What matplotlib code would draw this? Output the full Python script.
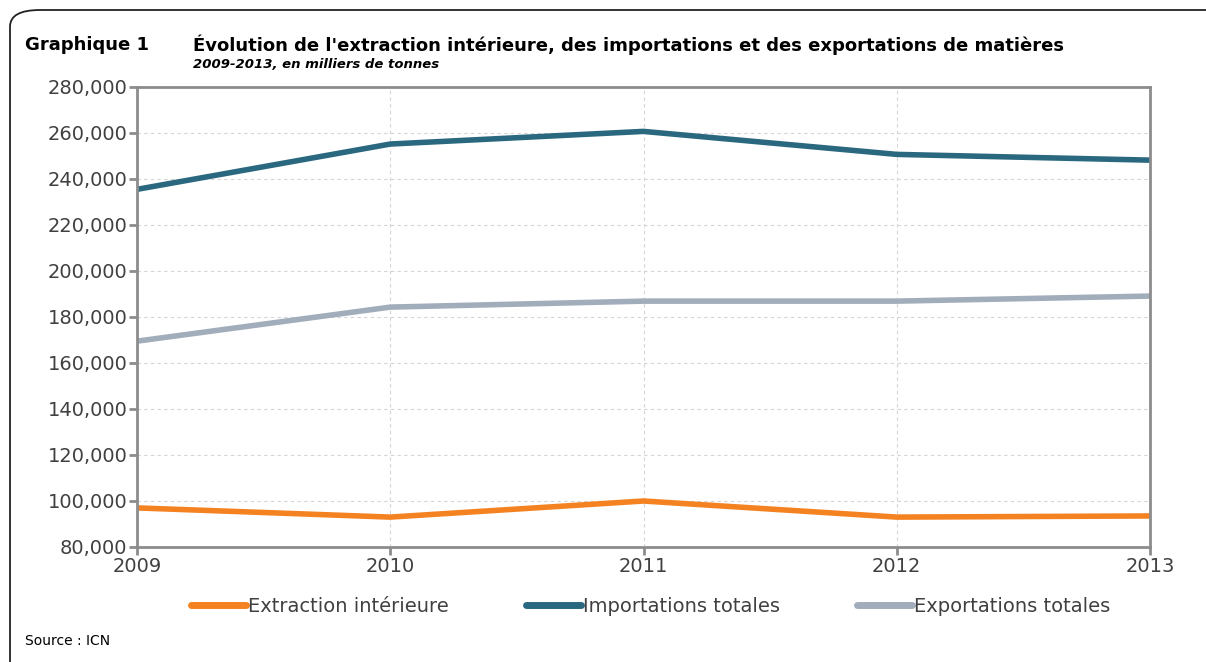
import matplotlib
matplotlib.use("Agg")
import matplotlib.pyplot as plt
from matplotlib.patches import FancyBboxPatch
from matplotlib.ticker import FuncFormatter

# donnees (milliers de tonnes)
annees = [2009, 2010, 2011, 2012, 2013]
extraction = [97000, 93000, 100000, 93000, 93500]
importations = [235500, 255200, 260700, 250700, 248200]
exportations = [169500, 184300, 186900, 186900, 189100]

noms = ['Extraction intérieure', 'Importations totales', 'Exportations totales']
couleurs = ['#F58220', '#2A6880', '#A2ADBB']

plt.rcParams['font.family'] = ['DejaVu Sans Condensed', 'DejaVu Sans']

fig = plt.figure(figsize=(12.06, 6.62), dpi=100)
ax = fig.add_axes([137/1206, 1-547/662, (1150-137)/1206, (547-87)/662])

# cadre arrondi autour du graphique
cadre = FancyBboxPatch((10/1206, -0.05), 1.2, 1-10/662+0.05,
                       boxstyle="round,pad=0,rounding_size=0.025",
                       transform=fig.transFigure, fill=False,
                       edgecolor='#222222', linewidth=1.3, clip_on=False)
fig.patches.append(cadre)

for serie, nom, c in zip([extraction, importations, exportations], noms, couleurs):
    ax.plot(annees, serie, color=c, linewidth=4, label=nom, solid_capstyle='butt')

ax.set_xlim(2009, 2013)
ax.set_ylim(80000, 280000)
ax.set_xticks(annees)
ax.set_yticks(range(80000, 280001, 20000))
ax.yaxis.set_major_formatter(FuncFormatter(lambda v, p: '{:,.0f}'.format(v)))
ax.grid(True, linestyle=(0, (3, 3)), color='#d4d4d4', linewidth=0.8)
ax.set_axisbelow(True)
for s in ax.spines.values():
    s.set_color('#8c8c8c')
    s.set_linewidth(2)
ax.tick_params(axis='both', colors='#8c8c8c', width=2, length=6,
               labelsize=14, labelcolor='#404040', pad=1)

leg = ax.legend(loc='center', bbox_to_anchor=(0.507, -0.13), ncol=3,
                frameon=False, fontsize=14, handlelength=2.8, handletextpad=0.1,
                columnspacing=4.0, labelcolor='#404040')
for l in leg.get_lines():
    l.set_linewidth(5)
    l.set_solid_capstyle('round')

fig.text(25/1206, 1-45/662, 'Graphique 1', fontsize=13, fontweight='bold',
         family='DejaVu Sans', va='center')
fig.text(193/1206, 1-45/662,
         "Évolution de l'extraction intérieure, des importations et des exportations de matières",
         fontsize=13, fontweight='bold', family='DejaVu Sans', va='center')
fig.text(193/1206, 1-64/662, '2009-2013, en milliers de tonnes', fontsize=9.5,
         fontweight='bold', style='italic', family='DejaVu Sans', va='center')
fig.text(25/1206, 1-641/662, 'Source : ICN', fontsize=10, va='center')

fig.savefig('out.png', dpi=100)
